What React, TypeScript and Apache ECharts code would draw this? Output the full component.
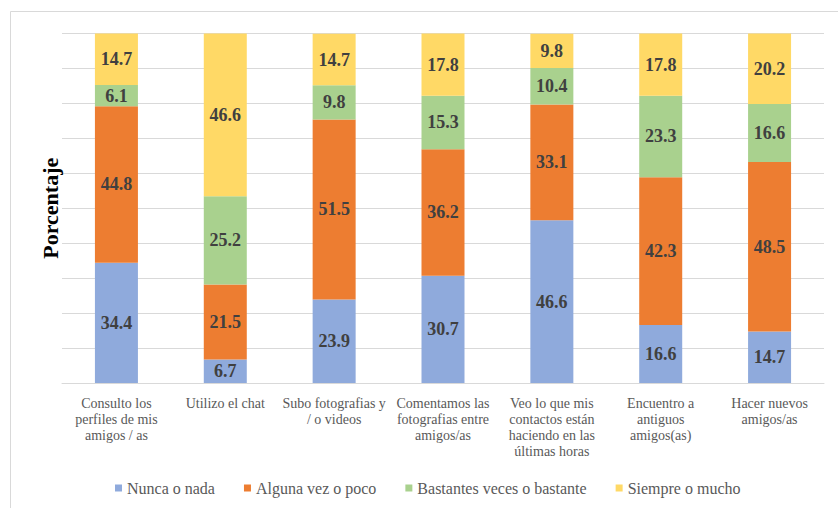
import React, { useEffect, useRef } from "react";
import * as echarts from "echarts";

const categories = [
  "Consulto los\nperfiles de mis\namigos / as",
  "Utilizo el chat",
  "Subo fotografias y\n/ o videos",
  "Comentamos las\nfotografias entre\namigos/as",
  "Veo lo que mis\ncontactos están\nhaciendo en las\núltimas horas",
  "Encuentro a\nantiguos\namigos(as)",
  "Hacer nuevos\namigos/as",
];

const seriesNames = [
  "Nunca o nada",
  "Alguna vez o poco",
  "Bastantes veces o bastante",
  "Siempre o mucho",
];

const nuncaValues = [34.4, 6.7, 23.9, 30.7, 46.6, 16.6, 14.7];
const algunaValues = [44.8, 21.5, 51.5, 36.2, 33.1, 42.3, 48.5];
const bastantesValues = [6.1, 25.2, 9.8, 15.3, 10.4, 23.3, 16.6];
const siempreValues = [14.7, 46.6, 14.7, 17.8, 9.8, 17.8, 20.2];

const colors = ["#8FAADC", "#ED7D31", "#A9D18E", "#FFD966"];

const FONT = "Liberation Serif";

export default function App() {
  const ref = useRef<HTMLDivElement>(null);

  useEffect(() => {
    document.body.style.margin = "0";
    if (!ref.current) return;
    const chart = echarts.init(ref.current, undefined, { renderer: "svg" });
    const allValues = [nuncaValues, algunaValues, bastantesValues, siempreValues];
    chart.setOption({
      animation: false,
      backgroundColor: "#ffffff",
      graphic: [
        {
          type: "rect",
          shape: { x: 10.5, y: 11.5, width: 900, height: 600 },
          style: { fill: "none", stroke: "#d9d9d9", lineWidth: 1 },
          silent: true,
        },
      ],
      grid: { left: 62, right: 14, top: 33.5, bottom: 125, containLabel: false },
      legend: {
        data: seriesNames,
        left: 110,
        top: 475,
        icon: "rect",
        itemWidth: 7,
        itemHeight: 7,
        itemGap: 29,
        textStyle: { fontFamily: FONT, fontSize: 16, color: "#595959" },
      },
      xAxis: {
        type: "category",
        data: categories,
        axisLine: { lineStyle: { color: "#d9d9d9" } },
        axisTick: { show: false },
        axisLabel: {
          interval: 0,
          fontFamily: FONT,
          fontSize: 14,
          lineHeight: 16,
          color: "#595959",
          margin: 12,
          verticalAlign: "top",
        },
      },
      yAxis: {
        type: "value",
        min: 0,
        max: 100,
        interval: 10,
        name: "Porcentaje",
        nameLocation: "middle",
        nameGap: 1,
        nameTextStyle: {
          fontFamily: FONT,
          fontSize: 22,
          fontWeight: "bold",
          color: "#000000",
        },
        axisLabel: { show: false },
        axisLine: { show: false },
        axisTick: { show: false },
        splitLine: { lineStyle: { color: "#d9d9d9" } },
      },
      series: seriesNames.map((name, i) => ({
        name,
        type: "bar",
        stack: "total",
        barWidth: 43,
        data: allValues[i],
        itemStyle: { color: colors[i] },
        label: {
          show: true,
          position: "inside",
          fontFamily: FONT,
          fontSize: 18,
          fontWeight: "bold",
          color: "#404040",
        },
      })),
    });
    return () => chart.dispose();
  }, []);

  return <div ref={ref} style={{ width: 838, height: 508 }} />;
}
